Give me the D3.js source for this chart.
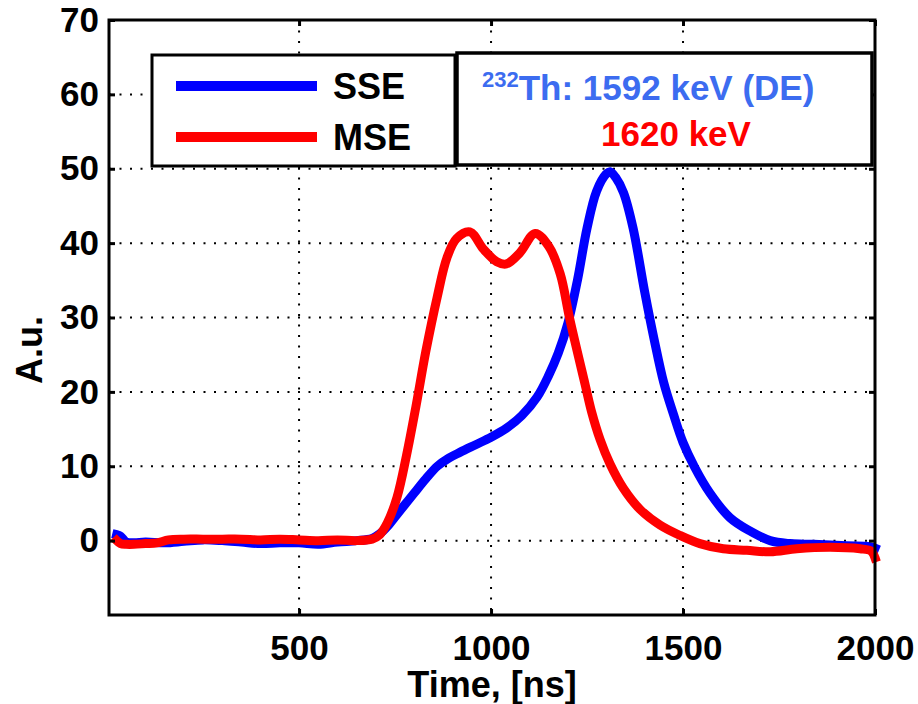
<!DOCTYPE html>
<html><head><meta charset="utf-8">
<script src="https://cdn.jsdelivr.net/npm/d3@7"></script>
<style>
body{margin:0;background:#fff;}
text{font-family:"Liberation Sans",Arial,sans-serif;font-weight:bold;}
</style></head>
<body><svg id="c" width="918" height="704"></svg>
<script>
// ---- data ----
const timeSSE = [25,35,50,70,100,150,200,250,300,350,400,450,500,550,600,650,690,710,730,750,775,800,830,860,890,920,960,1000,1040,1080,1120,1150,1175,1200,1225,1250,1275,1300,1310,1325,1345,1370,1400,1425,1450,1475,1500,1530,1570,1622,1674,1727,1779,1840,1926,1987,2000];
const sse = [0.8,0.6,-0.2,-0.3,-0.2,-0.3,-0.1,0.1,0,-0.2,-0.4,-0.3,-0.3,-0.5,-0.2,0,0.3,0.9,1.9,3.2,4.8,6.4,8.3,10.0,11.1,11.9,12.9,13.9,15.1,16.8,19.3,22.2,25.2,29.2,35.0,42.0,47.0,49.3,49.6,48.8,46.8,42.0,33.5,27.0,21.2,17.0,13.2,9.9,6.4,3.1,1.3,0.0,-0.4,-0.5,-0.7,-0.8,-1.0];
const timeMSE = [25,35,50,70,100,130,160,200,250,300,350,400,450,500,550,600,650,690,710,730,755,780,805,830,860,885,910,945,980,1015,1040,1075,1115,1150,1180,1205,1245,1262,1284,1310,1345,1388,1440,1492,1544,1605,1666,1727,1796,1883,1961,1990,2000];
const mse = [0.0,-0.4,-0.5,-0.5,-0.4,-0.3,0.1,0.2,0.2,0.2,0.2,0.1,0.2,0.1,0.0,0.1,0.0,0.2,0.8,2.4,5.8,11.5,18.2,25.4,32.8,38.0,40.6,41.5,39.2,37.5,37.2,38.7,41.3,39.6,35.9,29.8,21.0,17.3,13.6,10.3,7.0,4.2,2.1,0.7,-0.4,-1.1,-1.3,-1.5,-1.1,-0.9,-1.1,-1.4,-2.3];
const xTicks = [500,1000,1500,2000];
const yTicks = [0,10,20,30,40,50,60,70];
const seriesNames = ["SSE","MSE"];
const seriesColors = ["#0000ff","#ff0000"];
const noteLine1 = {sup:"232", text:"Th: 1592 keV (DE)"};
const noteLine2 = "1620 keV";
const xLabel = "Time, [ns]";
const yLabel = "A.u.";

// ---- layout ----
const svg = d3.select("#c");
const L=109, R=875, T=20, B=615;
const x = d3.scaleLinear().domain([5,2000]).range([L,R]);
const y = d3.scaleLinear().domain([-10,70]).range([B,T]);

// grid
const g = svg.append("g");
xTicks.filter(t=>t<2000).forEach(t=>{
  g.append("line").attr("x1",x(t)).attr("x2",x(t)).attr("y1",T).attr("y2",B)
   .attr("stroke","#000").attr("stroke-width",2).attr("stroke-dasharray","2,8.5");
});
yTicks.filter(t=>t<70).forEach(t=>{
  g.append("line").attr("x1",L).attr("x2",R).attr("y1",y(t)).attr("y2",y(t))
   .attr("stroke","#000").attr("stroke-width",2).attr("stroke-dasharray","2,8.5");
});

// curves
const line = d3.line().curve(d3.curveCatmullRom.alpha(0.5));
const sets = [[timeSSE,sse],[timeMSE,mse]];
sets.forEach((s,i)=>{
  const pts = s[0].map((t,j)=>[x(t),y(s[1][j])]);
  svg.append("path").attr("d",line(pts)).attr("fill","none")
    .attr("stroke",seriesColors[i]).attr("stroke-width",9)
    .attr("stroke-linejoin","round").attr("stroke-linecap","square");
});

// axes
const ax = svg.append("g");
ax.append("g").attr("transform",`translate(0,${B})`)
  .call(d3.axisBottom(x).tickValues(xTicks).tickSize(-6).tickPadding(20).tickFormat(d3.format("d")));
ax.append("g").attr("transform",`translate(${L},0)`)
  .call(d3.axisLeft(y).tickValues(yTicks).tickSize(-6).tickPadding(10).tickFormat(d3.format("d")));
ax.append("g").attr("transform",`translate(0,${T})`)
  .call(d3.axisTop(x).tickValues(xTicks).tickSize(-6).tickFormat(""));
ax.append("g").attr("transform",`translate(${R},0)`)
  .call(d3.axisRight(y).tickValues(yTicks).tickSize(-6).tickFormat(""));
ax.selectAll(".domain").remove();
ax.selectAll(".tick line").attr("stroke","#000").attr("stroke-width",3);
ax.selectAll(".tick text").attr("font-size",35).attr("fill","#000")
  .attr("font-family","'Liberation Sans',Arial,sans-serif").attr("font-weight","bold");
svg.append("rect").attr("x",L).attr("y",T).attr("width",R-L).attr("height",B-T)
  .attr("fill","none").attr("stroke","#000").attr("stroke-width",3);

// axis labels
svg.append("text").attr("x",492).attr("y",697).attr("text-anchor","middle")
  .attr("font-size",36).text(xLabel);
svg.append("text").attr("transform","translate(42,350) rotate(-90)").attr("text-anchor","middle")
  .attr("font-size",36).text(yLabel);

// legend box
svg.append("rect").attr("x",152).attr("y",55).attr("width",303).attr("height",111)
  .attr("fill","#fff").attr("stroke","#000").attr("stroke-width",3);
[86,137].forEach((ly,i)=>{
  svg.append("line").attr("x1",176).attr("x2",317).attr("y1",ly).attr("y2",ly)
    .attr("stroke",seriesColors[i]).attr("stroke-width",10);
  svg.append("text").attr("x",333).attr("y",ly+13).attr("font-size",36).attr("fill","#000")
    .text(seriesNames[i]);
});

// note box
svg.append("rect").attr("x",457).attr("y",53).attr("width",415).attr("height",112)
  .attr("fill","#fff").attr("stroke","#000").attr("stroke-width",3.5);
const t1 = svg.append("text").attr("x",482).attr("y",100).attr("fill","#3c6cf0").attr("font-size",35);
t1.append("tspan").attr("font-size",22).attr("dy",-13).text(noteLine1.sup);
t1.append("tspan").attr("dy",13).text(noteLine1.text);
svg.append("text").attr("x",676).attr("y",146).attr("text-anchor","middle")
  .attr("fill","#ff0000").attr("font-size",35).text(noteLine2);
</script></body></html>
